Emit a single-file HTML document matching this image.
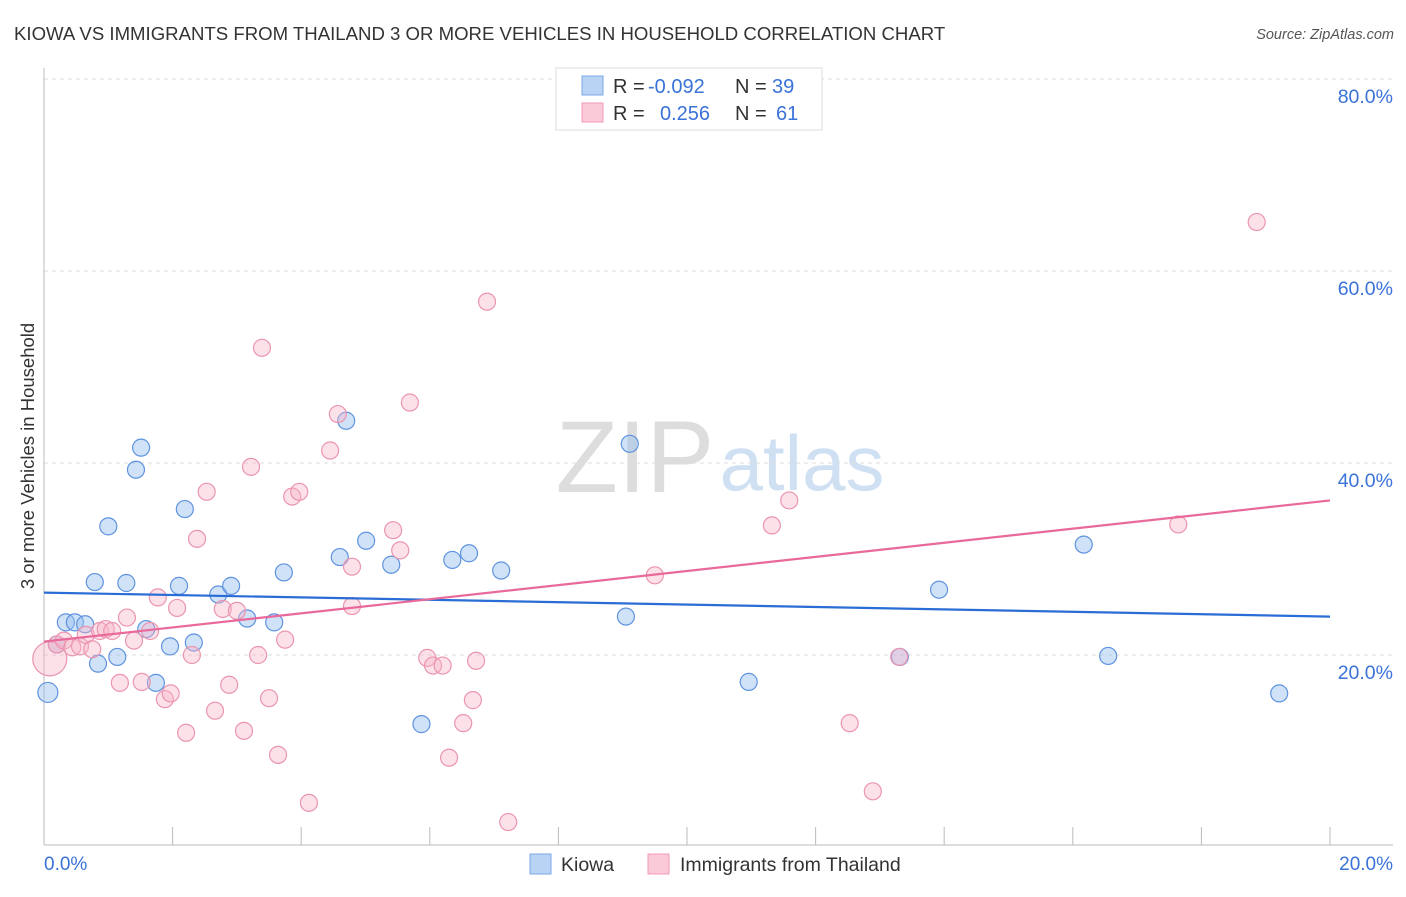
<!DOCTYPE html>
<html><head><meta charset="utf-8"><style>
body{margin:0;background:#fff;font-family:"Liberation Sans",sans-serif;}
svg text{font-family:"Liberation Sans",sans-serif;}
</style></head><body>
<svg width="1406" height="892" id="chart">
<text x="14" y="40" font-size="18.6" fill="#333">KIOWA VS IMMIGRANTS FROM THAILAND 3 OR MORE VEHICLES IN HOUSEHOLD CORRELATION CHART</text>
<text x="1394" y="39" font-size="14.5" fill="#555" font-style="italic" text-anchor="end">Source: ZipAtlas.com</text>
<text x="635" y="492" font-size="102" fill="#ddd" font-family="Liberation Serif" text-anchor="middle">ZIP</text>
<text x="802" y="490" font-size="78" fill="#cfe0f3" text-anchor="middle">atlas</text>
<text transform="translate(34,456) rotate(-90)" font-size="18.5" fill="#333" text-anchor="middle">3 or more Vehicles in Household</text>
<g id="grid"></g><g id="pts"></g><g id="lines"></g>
<rect x="556" y="68" width="266" height="62" fill="#fff" stroke="#ddd"/>
<rect x="582" y="76" width="21" height="19" fill="#b9d3f5" stroke="#7aa7e6"/>
<rect x="582" y="103" width="21" height="19" fill="#fbcad8" stroke="#f09ab4"/>
<g font-size="20">
<text x="613" y="93" fill="#333">R =</text><text x="648" y="93" fill="#3a72d8">-0.092</text>
<text x="735" y="93" fill="#333">N =</text><text x="772" y="93" fill="#3a72d8">39</text></g>
<g font-size="20">
<text x="613" y="120" fill="#333">R =</text><text x="660" y="120" fill="#3a72d8">0.256</text>
<text x="735" y="120" fill="#333">N =</text><text x="776" y="120" fill="#3a72d8">61</text></g>
<rect x="530" y="854" width="21" height="20" fill="#b9d3f5" stroke="#7aa7e6"/>
<text x="561" y="871" font-size="19.5" fill="#333">Kiowa</text>
<rect x="648" y="854" width="21" height="20" fill="#fbcad8" stroke="#f09ab4"/>
<text x="680" y="871" font-size="19.5" fill="#333">Immigrants from Thailand</text>
</svg>
<script>
const xTicks=[0,2,4,6,8,10,12,14,16,18,20];
const yTicks=[20,40,60,80];
const yTickLabels=["20.0%","40.0%","60.0%","80.0%"];
const kiowaX=[0.06,0.2,0.34,0.48,0.64,0.79,0.84,1.0,1.14,1.28,1.43,1.51,1.59,1.74,1.96,2.1,2.19,2.33,2.71,2.91,3.16,3.58,3.73,4.6,4.7,5.01,5.4,5.87,6.35,6.61,7.11,9.05,9.11,10.96,13.31,13.92,16.17,16.55,19.21];
const kiowaY=[16.1,21.1,23.4,23.4,23.2,27.6,19.1,33.4,19.8,27.5,39.3,41.6,22.7,17.1,20.9,27.2,35.2,21.3,26.3,27.2,23.8,23.4,28.6,30.2,44.4,31.9,29.4,12.8,29.9,30.6,28.8,24.0,42.0,17.2,19.8,26.8,31.5,19.9,16.0];
const thaiX=[0.09,0.2,0.31,0.44,0.56,0.65,0.75,0.87,0.96,1.06,1.18,1.29,1.4,1.52,1.65,1.77,1.88,1.97,2.07,2.21,2.3,2.38,2.53,2.66,2.78,2.88,3.0,3.11,3.22,3.33,3.39,3.5,3.64,3.75,3.86,3.97,4.12,4.45,4.57,4.79,4.79,5.43,5.54,5.69,5.96,6.05,6.2,6.3,6.52,6.67,6.72,6.89,7.22,9.5,11.32,11.59,12.53,12.89,13.3,17.64,18.86];
const thaiY=[19.6,21.1,21.5,20.8,20.9,22.1,20.6,22.5,22.7,22.5,17.1,23.9,21.5,17.2,22.5,26.0,15.4,16.0,24.9,11.9,20.0,32.1,37.0,14.2,24.8,16.9,24.6,12.1,39.6,20.0,52.0,15.5,9.6,21.6,36.5,37.0,4.6,41.3,45.1,25.1,29.2,33.0,30.9,46.3,19.7,18.9,18.9,9.3,12.9,15.3,19.4,56.8,2.6,28.3,33.5,36.1,12.9,5.8,19.8,33.6,65.1];
const kiowaLine=[26.5,24.0];
const thaiLine=[21.4,36.1];
const NS="http://www.w3.org/2000/svg";
const X=v=>44+v*64.3, Y=v=>847-v*9.6;
function mk(tag,a,parent){const e=document.createElementNS(NS,tag);for(const k in a)e.setAttribute(k,a[k]);document.getElementById(parent).appendChild(e);return e;}
yTicks.forEach((t,i)=>{
 const g=mk('line',{x1:44,x2:1393,y1:Y(t),y2:Y(t),stroke:'#ddd','stroke-dasharray':'4,4'},'grid');
 
 
 const l=mk('text',{x:1393,y:Y(t)+24,'font-size':19.5,fill:'#3a72d8','text-anchor':'end'},'grid');
 l.textContent=yTickLabels[i];
 
 
});
const ax=mk('line',{x1:44,x2:1393,y1:845,y2:845,stroke:'#bbb'},'grid');


const ay=mk('line',{x1:44,x2:44,y1:68,y2:845,stroke:'#bbb'},'grid');


xTicks.forEach(t=>{
 const tk=mk('line',{x1:X(t),x2:X(t),y1:827,y2:845,stroke:'#bbb'},'grid');
 
 
});
const x0=mk('text',{x:44,y:870,'font-size':19,fill:'#3a72d8'},'grid');x0.textContent='0.0%';


const x1=mk('text',{x:1393,y:870,'font-size':19,fill:'#3a72d8','text-anchor':'end'},'grid');x1.textContent='20.0%';


kiowaX.forEach((v,i)=>{
 const c=mk('circle',{cx:X(v),cy:Y(kiowaY[i]),r:i==0?10:8.5,fill:'rgba(150,190,240,0.45)',stroke:'#5f93df','stroke-width':1.2},'pts');
 
 
});
thaiX.forEach((v,i)=>{
 const c=mk('circle',{cx:X(v),cy:Y(thaiY[i]),r:i==0?17:8.5,fill:'rgba(248,180,200,0.4)',stroke:'#eb95b0','stroke-width':1.2},'pts');
 
 
});
const bl=mk('line',{x1:X(0),x2:X(20),y1:Y(kiowaLine[0]),y2:Y(kiowaLine[1]),stroke:'#2a6dd6','stroke-width':2.2},'lines');


const pl=mk('line',{x1:X(0),x2:X(20),y1:Y(thaiLine[0]),y2:Y(thaiLine[1]),stroke:'#e8699a','stroke-width':2.2},'lines');


</script>
</body></html>
